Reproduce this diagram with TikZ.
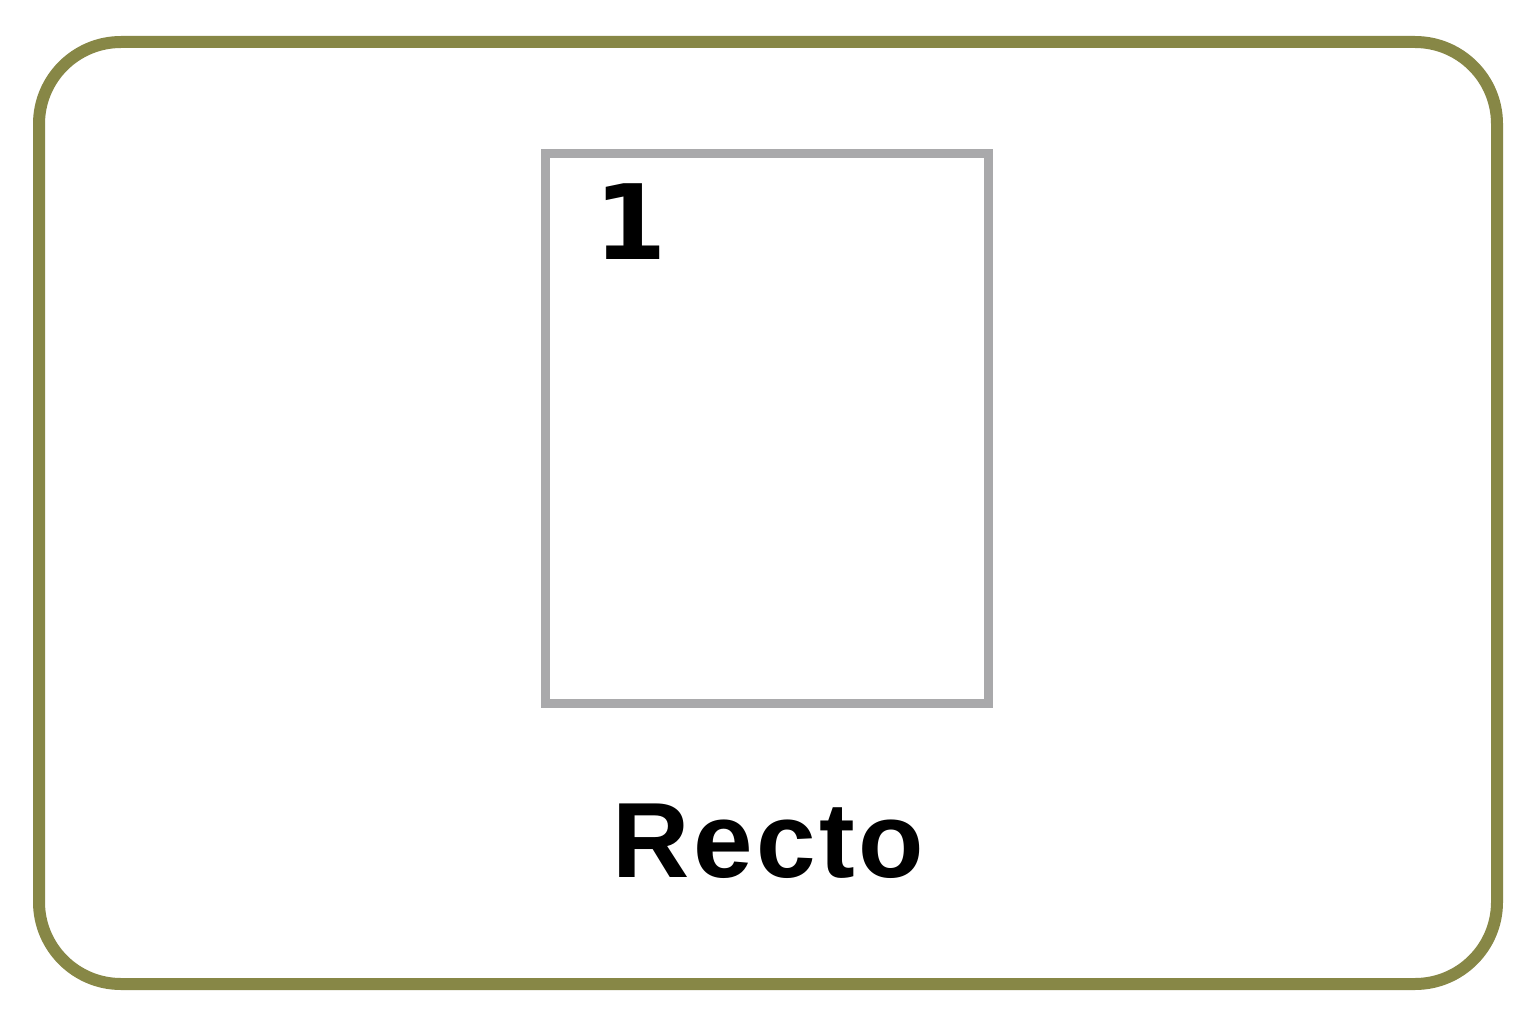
\documentclass[tikz,border=0pt]{standalone}
\usepackage{fontspec}
\setmainfont{Liberation Sans}
\newfontfamily\digitfont{DejaVu Sans}
\definecolor{olivebd}{HTML}{878746}
\definecolor{pagegray}{HTML}{A9A9AB}
\tikzset{
  frame/.style={draw=olivebd, line width=12pt, rounded corners=82pt},
  pagebox/.style={draw=pagegray, line width=9pt, inner sep=0pt, outer sep=0pt},
  bigtext/.style={inner sep=0pt, font=\fontsize{107}{110}\selectfont\bfseries, text=black}
}
\begin{document}
\begin{tikzpicture}[x=1pt,y=-1pt]
\useasboundingbox (0,0) rectangle (1536,1024);
\fill[white] (0,0) rectangle (1536,1024);
\draw[frame] (39,42) rectangle (1497,984);
\node[pagebox, minimum width=443pt, minimum height=550pt, anchor=north west] (page) at (545,153.5) {};
\node[bigtext, font=\digitfont\fontsize{104}{108}\selectfont\bfseries, anchor=base west] (num) at (594,260) {1};
\node[bigtext, anchor=base] (label) at (768,877) {R\kern3.5pt e\kern3.5pt c\kern3.5pt t\kern3.5pt o};
\end{tikzpicture}
\end{document}
